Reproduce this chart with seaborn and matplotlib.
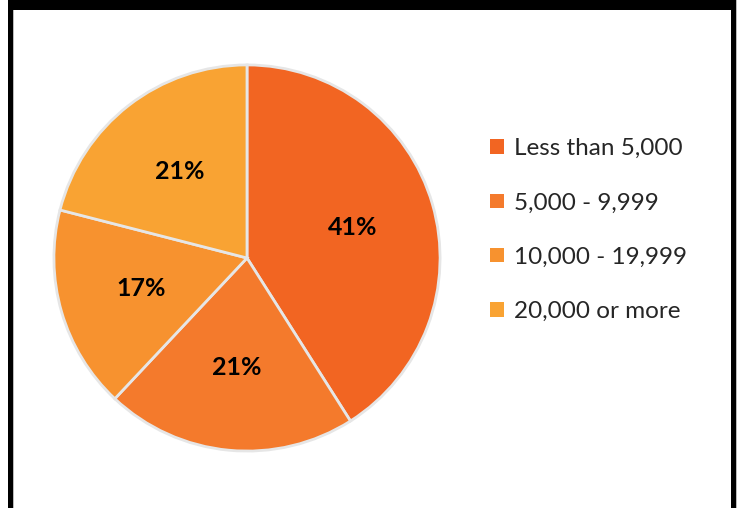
import matplotlib
matplotlib.use("Agg")
import matplotlib.pyplot as plt
from matplotlib.patches import Rectangle
import seaborn as sns

sns.set_theme(style="white")
plt.rcParams['font.family'] = ['Lato', 'DejaVu Sans']

# ── 데이터 ─────────────────────────────────────────────
categories = ["Less than 5,000", "5,000 - 9,999", "10,000 - 19,999", "20,000 or more"]
shares     = [41, 21, 17, 21]
colors     = ["#F26522", "#F47A2C", "#F7922F", "#F9A333"]

W, H = 741, 508
fig = plt.figure(figsize=(W / 100, H / 100), dpi=100)
fig.patch.set_facecolor("white")

# 파이 축 (center 247,258 / radius ~195 px)
ax = fig.add_axes([52 / W, (H - 453) / H, 390 / W, 390 / H])
wedges, texts, autotexts = ax.pie(
    shares, colors=colors, startangle=90, counterclock=False,
    autopct="%d%%", pctdistance=0.57,
    wedgeprops={"edgecolor": "#e6e6e6", "linewidth": 2},
    textprops={"fontsize": 18, "fontweight": "bold", "color": "black"},
)
ax.set_xlim(-1.01, 1.01)
ax.set_ylim(-1.01, 1.01)
ax.set_aspect("equal")
ax.axis("off")

# 범례
leg = fig.legend(wedges, categories, loc="upper left",
                 bbox_to_anchor=(478 / W, 1 - 126 / H),
                 frameon=False, fontsize=17.5, handlelength=0.55, handleheight=0.55,
                 handletextpad=0.45, labelspacing=1.37, borderpad=0)
for h in leg.legend_handles:
    h.set_edgecolor("none")

# 검은 테두리
black = "black"
fig.add_artist(Rectangle((8 / W, 0), 5 / W, 1, transform=fig.transFigure, color=black, lw=0))
fig.add_artist(Rectangle((731 / W, 0), 5 / W, 1, transform=fig.transFigure, color=black, lw=0))
fig.add_artist(Rectangle((8 / W, 1 - 10 / H), 728 / W, 10 / H, transform=fig.transFigure, color=black, lw=0))
fig.add_artist(Rectangle((13 / W, 0), 1 / W, 1 - 10 / H, transform=fig.transFigure, color="#bbbbbb", lw=0))
fig.add_artist(Rectangle((736 / W, 0), 1 / W, 1, transform=fig.transFigure, color="#bbbbbb", lw=0))

plt.savefig("out.png", dpi=100)
